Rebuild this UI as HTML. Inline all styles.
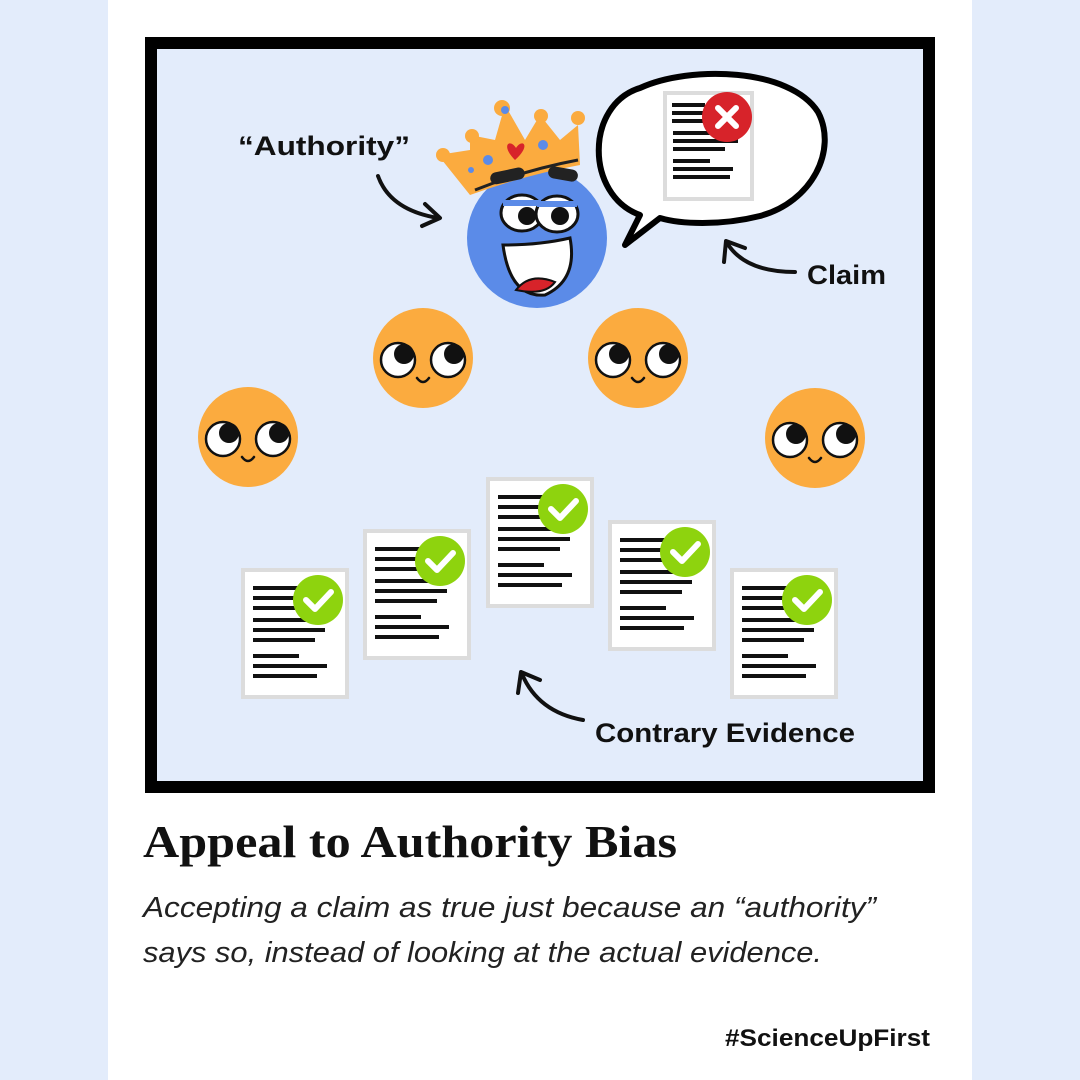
<!DOCTYPE html>
<html><head><meta charset="utf-8"><style>
body{margin:0;width:1080px;height:1080px;background:#e3ecfb;overflow:hidden}
svg{display:block}
</style></head><body>
<svg width="1080" height="1080" viewBox="0 0 1080 1080" xmlns="http://www.w3.org/2000/svg">
<defs>
<g id="face">
<circle r="50" fill="#fbab3f"/>
<circle cx="-25" cy="2" r="17" fill="#fff" stroke="#111" stroke-width="2.5"/>
<circle cx="25" cy="2" r="17" fill="#fff" stroke="#111" stroke-width="2.5"/>
<circle cx="-19" cy="-4" r="10" fill="#111"/>
<circle cx="31" cy="-4" r="10" fill="#111"/>
<path d="M-6 20 Q0 28 6 20" fill="none" stroke="#111" stroke-width="2.5" stroke-linecap="round"/>
</g>
<g id="doc">
<rect x="0" y="0" width="104" height="127" fill="#fff" stroke="#dcdcdc" stroke-width="4"/>
<g stroke="#111" stroke-width="4">
<line x1="10" y1="18" x2="62" y2="18"/><line x1="10" y1="28" x2="62" y2="28"/><line x1="10" y1="38" x2="62" y2="38"/>
<line x1="10" y1="50" x2="82" y2="50"/><line x1="10" y1="60" x2="82" y2="60"/><line x1="10" y1="70" x2="72" y2="70"/>
<line x1="10" y1="86" x2="56" y2="86"/><line x1="10" y1="96" x2="84" y2="96"/><line x1="10" y1="106" x2="74" y2="106"/></g>
<circle cx="75" cy="30" r="25" fill="#8ed30e"/>
<path d="M63 30 L72 39 L88 22" fill="none" stroke="#fff" stroke-width="6" stroke-linecap="round" stroke-linejoin="round"/>
</g>
</defs>
<rect x="108" y="0" width="864" height="1080" fill="#fff"/>
<rect x="151" y="43" width="778" height="744" fill="#e3ecfb" stroke="#000" stroke-width="12"/>

<!-- speech bubble -->
<path d="M640 215 C585 195 585 105 640 88 C690 65 790 68 818 112 C838 150 812 202 760 216 C720 226 680 224 660 218 L625 245 Z" fill="#fff" stroke="#000" stroke-width="6" stroke-linejoin="round"/>
<rect x="665" y="93" width="87" height="106" fill="#fff" stroke="#dcdcdc" stroke-width="4"/>
<g stroke="#111" stroke-width="4"><line x1="672" y1="105" x2="705" y2="105"/><line x1="672" y1="113" x2="705" y2="113"/><line x1="672" y1="121" x2="705" y2="121"/>
<line x1="673" y1="133" x2="738" y2="133"/><line x1="673" y1="141" x2="738" y2="141"/><line x1="673" y1="149" x2="725" y2="149"/>
<line x1="673" y1="161" x2="710" y2="161"/><line x1="673" y1="169" x2="733" y2="169"/><line x1="673" y1="177" x2="730" y2="177"/></g>
<circle cx="727" cy="117" r="25" fill="#d7232a"/>
<path d="M718 108 L736 126 M736 108 L718 126" stroke="#fff" stroke-width="6" stroke-linecap="round"/>

<!-- king -->
<circle cx="537" cy="238" r="70" fill="#5b8be8"/>
<path d="M470 150 L438 155 L470 195 Q525 175 580 165 L578 125 L560 140 L540 115 L525 140 L505 105 L495 140 L470 135 Z" fill="#fbab3f"/>
<circle cx="502" cy="108" r="8" fill="#fbab3f"/><circle cx="541" cy="116" r="7" fill="#fbab3f"/><circle cx="578" cy="118" r="7" fill="#fbab3f"/><circle cx="472" cy="136" r="7" fill="#fbab3f"/><circle cx="443" cy="155" r="7" fill="#fbab3f"/>
<circle cx="505" cy="110" r="4" fill="#5b8be8"/><circle cx="488" cy="160" r="5" fill="#5b8be8"/><circle cx="543" cy="145" r="5" fill="#5b8be8"/><circle cx="471" cy="170" r="3" fill="#5b8be8"/>
<path d="M515 160 C500 145 510 138 516 148 C522 138 532 145 515 160Z" fill="#d7232a"/>
<path d="M475 190 Q525 170 578 160" stroke="#222" stroke-width="3" fill="none"/>
<rect x="490" y="170" width="35" height="12" rx="6" fill="#222" transform="rotate(-12 507 176)"/>
<rect x="548" y="168" width="30" height="12" rx="6" fill="#222" transform="rotate(10 563 174)"/>
<ellipse cx="522" cy="213" rx="21" ry="18" fill="#fff" stroke="#111" stroke-width="3"/>
<ellipse cx="557" cy="214" rx="21" ry="18" fill="#fff" stroke="#111" stroke-width="3"/>
<circle cx="527" cy="216" r="9" fill="#111"/><circle cx="560" cy="216" r="9" fill="#111"/>
<path d="M503 203 L541 203 M537 204 L577 204" stroke="#5b8be8" stroke-width="6"/>
<path d="M503 245 Q540 245 570 238 Q578 280 545 295 Q510 298 503 245Z" fill="#fff" stroke="#111" stroke-width="3"/>
<path d="M516 290 Q530 272 555 282 Q545 296 516 290Z" fill="#d7232a" stroke="#111" stroke-width="2"/>

<use href="#face" x="423" y="358"/><use href="#face" x="638" y="358"/>
<use href="#face" x="248" y="437"/><use href="#face" x="815" y="438"/>

<use href="#doc" x="243" y="570"/><use href="#doc" x="365" y="531"/><use href="#doc" x="488" y="479"/><use href="#doc" x="610" y="522"/><use href="#doc" x="732" y="570"/>

<g fill="none" stroke="#111" stroke-width="4" stroke-linecap="round" stroke-linejoin="round">
<path d="M378 176 Q390 210 438 218"/><path d="M425 204 L440 218 L422 226"/>
<path d="M795 272 Q745 272 727 243"/><path d="M724 262 L726 241 L745 248"/>
<path d="M583 720 Q538 712 522 674"/><path d="M518 693 L521 672 L540 680"/>
</g>
<g font-family="Liberation Sans, sans-serif" font-weight="bold" font-size="27" fill="#111">
<text x="238" y="155" textLength="172" lengthAdjust="spacingAndGlyphs">“Authority”</text>
<text x="807" y="284" textLength="79" lengthAdjust="spacingAndGlyphs">Claim</text>
<text x="595" y="742" textLength="260" lengthAdjust="spacingAndGlyphs">Contrary Evidence</text>
</g>
<text x="143" y="857" font-family="Liberation Serif, serif" font-weight="bold" font-size="46" fill="#111" textLength="534" lengthAdjust="spacingAndGlyphs">Appeal to Authority Bias</text>
<g font-family="Liberation Sans, sans-serif" font-style="italic" font-size="29" fill="#222">
<text x="143" y="917" textLength="733" lengthAdjust="spacingAndGlyphs">Accepting a claim as true just because an “authority”</text>
<text x="143" y="962" textLength="679" lengthAdjust="spacingAndGlyphs">says so, instead of looking at the actual evidence.</text>
</g>
<text x="725" y="1046" font-family="Liberation Sans, sans-serif" font-weight="bold" font-size="24" fill="#111" textLength="205" lengthAdjust="spacingAndGlyphs">#ScienceUpFirst</text>
</svg>
</body></html>
